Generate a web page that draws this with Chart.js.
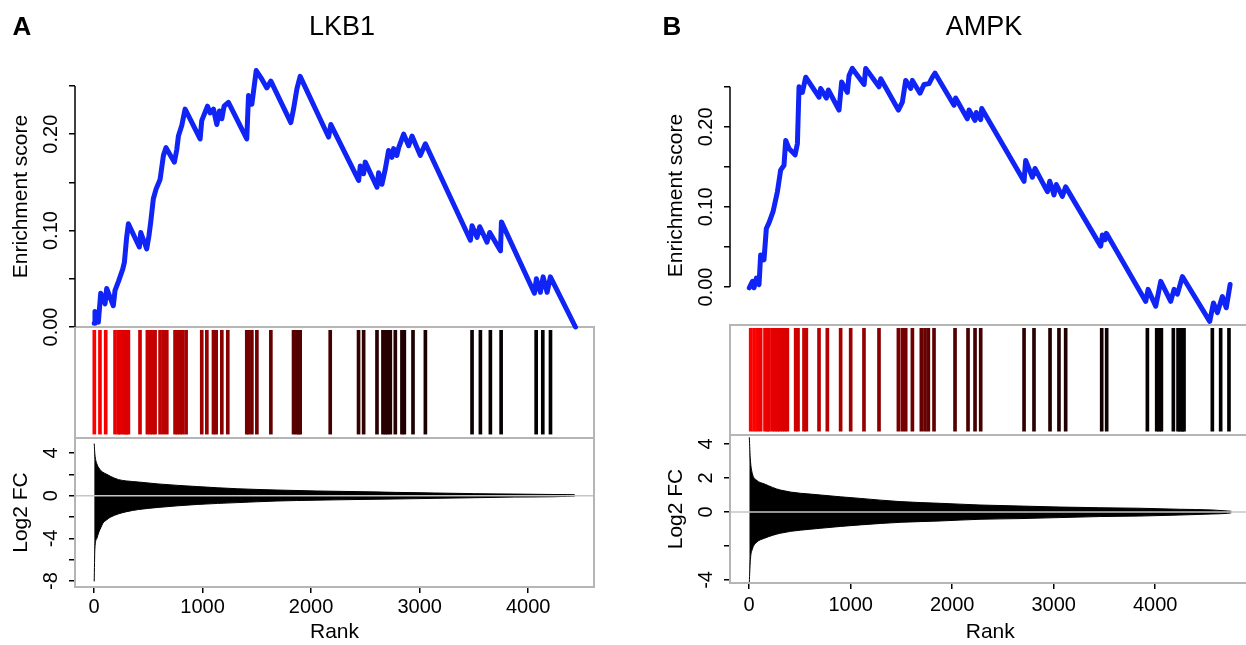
<!DOCTYPE html>
<html>
<head>
<meta charset="utf-8">
<script src="https://cdn.jsdelivr.net/npm/chart.js"></script>
<style>
  html, body { margin: 0; padding: 0; background: #fff; overflow: hidden; }
  body { width: 1246px; height: 645px; position: relative; font-family: "Liberation Sans", Arial, sans-serif; }
  .wrap { position: absolute; top: 0; height: 645px; }
  #wrapA { left: 0; width: 623px; }
  #wrapB { left: 623px; width: 650px; }
  .lbl { position: absolute; font-size: 27px; line-height: 1; transform: translate(-50%, -50%); white-space: nowrap; color: #000; }
  .tag { font-weight: bold; font-size: 26px; }
</style>
</head>
<body>
<div class="wrap" id="wrapA"><canvas id="chartA"></canvas></div>
<div class="wrap" id="wrapB"><canvas id="chartB"></canvas></div>
<div class="lbl tag" style="left:22px;top:26px">A</div>
<div class="lbl" style="left:342px;top:26px">LKB1</div>
<div class="lbl tag" style="left:672px;top:26px">B</div>
<div class="lbl" style="left:984px;top:26px">AMPK</div>
<script>
// shared tick positions
const rankTicks = [0, 1000, 2000, 3000, 4000];
const esTicks = [0, 0.05, 0.10, 0.15, 0.20, 0.25];
const esLabels = [0, 0.10, 0.20];

// ---- LKB1 (panel A) ----
const lkb1Size = 4430;
const lkb1Rank = [1, 8, 39, 61, 101, 116, 177, 193, 224, 264, 279, 300, 316, 417, 430, 485, 506, 522, 546, 571,
  608, 639, 663, 740, 762, 777, 808, 839, 977, 992, 1045, 1069, 1100, 1131, 1155, 1177, 1198, 1238, 1407, 1423,
  1454, 1494, 1546, 1592, 1629, 1813, 1838, 1869, 1899, 2161, 2182, 2438, 2453, 2484, 2499, 2607, 2622, 2653, 2684, 2714,
  2745, 2760, 2790, 2807, 2853, 2899, 2930, 3006, 3053, 3468, 3483, 3529, 3554, 3621, 3646, 3745, 3754, 4058, 4076, 4113,
  4138, 4175, 4205, 4436];
const lkb1ES = [0.004, 0.016, 0.005, 0.035, 0.024, 0.040, 0.022, 0.038, 0.047, 0.060, 0.067, 0.093, 0.107, 0.083, 0.098, 0.081, 0.095, 0.109, 0.133, 0.143,
  0.153, 0.178, 0.186, 0.171, 0.184, 0.198, 0.209, 0.226, 0.195, 0.214, 0.229, 0.222, 0.226, 0.210, 0.224, 0.216, 0.229, 0.233, 0.195, 0.240,
  0.231, 0.266, 0.257, 0.248, 0.255, 0.212, 0.226, 0.247, 0.260, 0.197, 0.210, 0.152, 0.167, 0.159, 0.171, 0.145, 0.160, 0.148, 0.164, 0.183,
  0.176, 0.185, 0.178, 0.186, 0.200, 0.188, 0.198, 0.178, 0.190, 0.090, 0.105, 0.093, 0.104, 0.088, 0.098, 0.079, 0.109, 0.035, 0.050, 0.036,
  0.052, 0.036, 0.052, 0.000];
const lkb1Hits = [2, 54, 107, 193, 224, 239, 264, 285, 300, 316, 423, 491, 516, 540, 562, 608, 639, 670, 746, 768,
  792, 817, 848, 992, 1039, 1100, 1125, 1177, 1232, 1407, 1423, 1454, 1500, 1629, 1838, 1862, 1885, 1899, 2176, 2437,
  2484, 2607, 2662, 2684, 2705, 2730, 2776, 2837, 2859, 2939, 3053, 3483, 3560, 3652, 3751, 4074, 4135, 4206];
const lkb1FcRank = [1, 7, 25, 44, 62, 80, 117, 153, 226, 299, 408, 590, 955, 1320, 1684, 2049, 2414, 2779, 3143, 3508, 3872, 4237, 4365, 4430];
const lkb1FcUp = [4.88, 3.9, 3.0, 2.6, 2.35, 2.2, 2.0, 1.8, 1.5, 1.38, 1.28, 1.1, 0.85, 0.65, 0.53, 0.44, 0.38, 0.31, 0.25, 0.19, 0.15, 0.11, 0.1, 0.08];
const lkb1FcDown = [-8.03, -5.0, -4.0, -3.4, -3.0, -2.6, -2.25, -2.0, -1.7, -1.5, -1.3, -1.1, -0.82, -0.65, -0.5, -0.42, -0.36, -0.31, -0.25, -0.19, -0.13, -0.1, -0.06, -0.04];
const lkb1FcTicks = [-8, -6, -4, -2, 0, 2, 4];
const lkb1FcLabels = [4, 0, -4, -8];

// ---- AMPK (panel B) ----
const ampkSize = 4750;
const ampkRank = [1, 32, 48, 71, 97, 113, 146, 169, 195, 235, 278, 310, 343, 360, 392, 452, 475, 491, 524, 557,
  688, 704, 760, 780, 885, 911, 967, 984, 1016, 1132, 1148, 1279, 1296, 1470, 1509, 1542, 1591, 1608, 1683, 1723,
  1772, 1805, 1831, 2018, 2034, 2149, 2166, 2225, 2238, 2281, 2291, 2708, 2724, 2790, 2816, 2938, 2961, 3003, 3026, 3085,
  3118, 3463, 3480, 3506, 3519, 3907, 3930, 4005, 4055, 4153, 4186, 4219, 4268, 4537, 4574, 4613, 4662, 4700, 4738];
const ampkES = [-0.001, 0.007, -0.001, 0.011, 0.003, 0.040, 0.034, 0.073, 0.080, 0.094, 0.119, 0.146, 0.152, 0.183, 0.173, 0.165, 0.179, 0.250, 0.243, 0.262,
  0.237, 0.248, 0.236, 0.246, 0.221, 0.256, 0.243, 0.264, 0.273, 0.253, 0.273, 0.250, 0.260, 0.221, 0.231, 0.258, 0.248, 0.258, 0.242, 0.253,
  0.254, 0.262, 0.267, 0.227, 0.236, 0.210, 0.221, 0.208, 0.218, 0.209, 0.223, 0.132, 0.158, 0.137, 0.148, 0.119, 0.132, 0.115, 0.128, 0.113,
  0.125, 0.051, 0.065, 0.059, 0.067, -0.018, -0.003, -0.024, 0.007, -0.018, -0.003, -0.009, 0.013, -0.043, -0.020, -0.032, -0.012, -0.026, 0.003];
const ampkHits = [15, 48, 80, 113, 156, 179, 195, 228, 254, 277, 300, 327, 353, 376, 458, 481, 540, 563, 688, 770,
  901, 1000, 1131, 1279, 1470, 1509, 1542, 1608, 1696, 1732, 1765, 1821, 2028, 2156, 2225, 2281, 2708, 2806, 2964, 3052,
  3118, 3473, 3522, 3923, 4015, 4038, 4061, 4179, 4225, 4245, 4268, 4284, 4563, 4645, 4727];
const ampkFcRank = [1, 12, 31, 71, 150, 308, 701, 1094, 1487, 1881, 2274, 2667, 3060, 3453, 3847, 4240, 4555, 4712, 4750];
const ampkFcUp = [4.4, 3.06, 2.27, 1.88, 1.65, 1.29, 1.0, 0.8, 0.61, 0.51, 0.41, 0.35, 0.29, 0.25, 0.22, 0.16, 0.12, 0.06, 0.04];
const ampkFcDown = [-4.15, -2.8, -2.2, -1.8, -1.55, -1.25, -0.96, -0.76, -0.61, -0.53, -0.43, -0.39, -0.33, -0.27, -0.24, -0.18, -0.12, -0.08, -0.05];
const ampkFcTicks = [-4, -2, 0, 2, 4];
const ampkFcLabels = [4, 2, 0, -4];

Chart.defaults.font.family = '"Liberation Sans", Arial, Helvetica, sans-serif';
Chart.defaults.color = '#000';

function hitColor(rank, size) {
  const k = Math.pow(1 - rank / size, 2);
  return 'rgb(' + Math.round(255 * k) + ',0,0)';
}

function pts(xs, ys) {
  return xs.map((x, i) => ({ x: x, y: ys[i] }));
}

function setTicks(values) {
  return s => { s.ticks = values.map(v => ({ value: v })); };
}

// grey boxes round the barcode and the ranked list, the zero line,
// and the enrichment axis line that only runs from 0 to 0.25
const frames = {
  id: 'frames',
  afterDatasetDraw(chart, args) {
    if (chart.data.datasets[args.index].label !== 'hits') return;
    const { ctx, chartArea, scales } = chart;
    const w = chartArea.right - chartArea.left;
    ctx.save();
    const y0 = scales.y3.getPixelForValue(0);
    ctx.strokeStyle = '#c6c6c6';
    ctx.lineWidth = 1.5;
    ctx.beginPath();
    ctx.moveTo(chartArea.left, y0);
    ctx.lineTo(chartArea.right, y0);
    ctx.stroke();
    ctx.strokeStyle = '#b5b5b5';
    ctx.lineWidth = 2;
    ['y2', 'y3'].forEach(id => {
      const s = scales[id];
      ctx.strokeRect(chartArea.left, s.top, w, s.bottom - s.top);
    });
    const ys = scales.y;
    ctx.strokeStyle = '#000';
    ctx.lineWidth = 1.5;
    ctx.beginPath();
    ctx.moveTo(chartArea.left, ys.getPixelForValue(esTicks[0]));
    ctx.lineTo(chartArea.left, ys.getPixelForValue(esTicks[esTicks.length - 1]));
    ctx.stroke();
    ctx.restore();
  }
};

function buildPanel(id, p) {
  const scales = {
    x: {
      type: 'linear', min: p.xMin, max: p.xMax, offset: false,
      afterBuildTicks: setTicks(rankTicks),
      afterFit: s => { s.height = p.xHeight; },
      ticks: { autoSkip: false, maxRotation: 0, padding: p.xPad, font: { size: 20 }, callback: v => String(v) },
      grid: { drawOnChartArea: false, tickLength: 6, color: '#000', lineWidth: 1.5, offset: false },
      border: { display: false },
      title: { display: true, text: 'Rank', font: { size: 21 }, padding: { top: 0, bottom: 0 } }
    },
    y: {
      type: 'linear', position: 'left', stack: 'p', stackWeight: p.esWeight, weight: 4,
      min: p.esMin, max: p.esMax,
      afterBuildTicks: setTicks(esTicks),
      afterFit: s => { s.width = 75; },
      ticks: { autoSkip: false, minRotation: 90, maxRotation: 90, crossAlign: 'center', padding: -1.5, font: { size: 20 },
        callback: v => (esLabels.some(l => Math.abs(l - v) < 1e-9) ? v.toFixed(2) : '') },
      grid: { drawOnChartArea: false, tickLength: 6, color: '#000', lineWidth: 1.5 },
      border: { display: false },
      title: { display: true, text: 'Enrichment score', font: { size: 21 }, padding: { top: 9, bottom: 0 } }
    },
    y2: {
      type: 'linear', position: 'left', stack: 'p', stackWeight: p.barWeight, weight: 2, min: 0, max: 1,
      afterFit: s => { s.width = 75; },
      ticks: { display: false }, grid: { display: false }, border: { display: false }
    },
    y3: {
      type: 'linear', position: 'left', stack: 'p', stackWeight: p.fcWeight, weight: 1,
      min: p.fcMin, max: p.fcMax,
      afterBuildTicks: setTicks(p.fcTicks),
      afterFit: s => { s.width = 75; },
      ticks: { autoSkip: false, minRotation: 90, maxRotation: 90, crossAlign: 'center', padding: 9, font: { size: 20 },
        callback: v => (p.fcLabels.indexOf(v) >= 0 ? String(v) : '') },
      grid: { drawOnChartArea: false, tickLength: 6, color: '#000', lineWidth: 1.5 },
      border: { display: false },
      title: { display: true, text: 'Log2 FC', font: { size: 21 }, padding: { top: 9, bottom: 0 } }
    }
  };

  return new Chart(document.getElementById(id), {
    type: 'line',
    data: {
      datasets: [
        {
          label: 'es', data: pts(p.rank, p.es), yAxisID: 'y', order: 0, clip: false,
          borderColor: '#0f24f5', borderWidth: 5, pointRadius: 0, tension: 0,
          borderJoinStyle: 'round', borderCapStyle: 'round', fill: false
        },
        {
          label: 'hits', type: 'bar', yAxisID: 'y2', order: 1, grouped: false,
          data: p.hits.map(r => ({ x: r, y: [0.035, 0.97] })),
          backgroundColor: p.hits.map(r => hitColor(r, p.size)),
          borderWidth: 0, barThickness: 3
        },
        {
          label: 'up', data: pts(p.fcRank, p.fcUp), yAxisID: 'y3', order: 2,
          borderColor: '#000', backgroundColor: '#000', borderWidth: 1, pointRadius: 0,
          cubicInterpolationMode: 'monotone', fill: 'origin'
        },
        {
          label: 'down', data: pts(p.fcRank, p.fcDown), yAxisID: 'y3', order: 3,
          borderColor: '#000', backgroundColor: '#000', borderWidth: 1, pointRadius: 0,
          cubicInterpolationMode: 'monotone', fill: 'origin'
        }
      ]
    },
    options: {
      responsive: true, maintainAspectRatio: false, animation: false, events: [],
      layout: { padding: { left: p.padLeft, right: p.padRight, top: p.padTop, bottom: 0 } },
      plugins: { legend: { display: false }, tooltip: { enabled: false } },
      scales: scales
    },
    plugins: [frames]
  });
}

buildPanel('chartA', {
  size: lkb1Size, rank: lkb1Rank, es: lkb1ES, hits: lkb1Hits,
  fcRank: lkb1FcRank, fcUp: lkb1FcUp, fcDown: lkb1FcDown, fcTicks: lkb1FcTicks, fcLabels: lkb1FcLabels,
  xMin: -176, xMax: 4607, esMin: 0, esMax: 0.2707, fcMin: -8.55, fcMax: 5.4,
  esWeight: 261, barWeight: 111, fcWeight: 149,
  padLeft: 0, padRight: 29, padTop: 66, xHeight: 58, xPad: 2
});

buildPanel('chartB', {
  size: ampkSize, rank: ampkRank, es: ampkES, hits: ampkHits,
  fcRank: ampkFcRank, fcUp: ampkFcUp, fcDown: ampkFcDown, fcTicks: ampkFcTicks, fcLabels: ampkFcLabels,
  xMin: -189, xMax: 4939, esMin: -0.0475, esMax: 0.276, fcMin: -4.18, fcMax: 4.53,
  esWeight: 259, barWeight: 110, fcWeight: 148,
  padLeft: 32, padRight: 22.5, padTop: 66, xHeight: 62, xPad: 4
});
</script>
</body>
</html>
